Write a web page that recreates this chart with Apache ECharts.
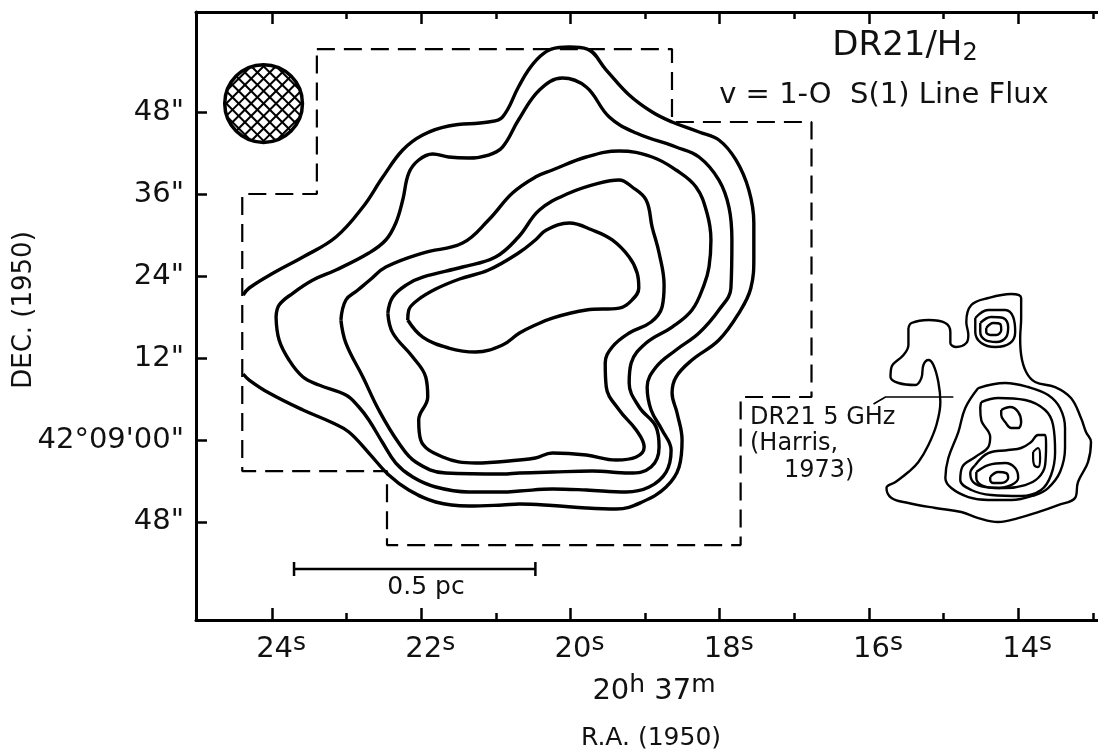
<!DOCTYPE html>
<html><head><meta charset="utf-8">
<script src="https://cdn.jsdelivr.net/npm/echarts@6/dist/echarts.min.js"></script>
<style>html,body{margin:0;padding:0;background:#fff}#c{width:1098px;height:751px}</style>
</head><body><div id="c"></div>
<script>
// ---- axis ticks / labels ----
const raMajorTicks = [14, 16, 18, 20, 22, 24];
const raMinorTicks = [13, 15, 17, 19, 21, 23];
const decTicks = [-12, 0, 12, 24, 36, 48];
const decTickLabels = ['48"', '42°09\'00"', '12"', '24"', '36"', '48"'];

// ---- H2 contours: [RA seconds (20h37m + s), Dec offset arcsec from 42°09'00"] ----
const h2Contour1 = [[24.388,21.26],[24.307,22.29],[23.960,24.63],[23.586,26.83],[23.144,29.77],[22.783,34.16],[22.516,38.56],[22.249,42.52],[21.981,44.72],[21.634,46.04],[21.099,46.63],[20.912,47.36],[20.698,51.76],[20.564,54.25],[20.417,56.16],[20.257,57.33],[20.016,57.62],[19.775,57.33],[19.521,54.25],[19.214,50.59],[18.906,48.09],[18.639,46.63],[18.278,45.16],[18.011,43.99],[17.783,41.06],[17.610,36.66],[17.543,31.82],[17.543,26.83],[17.583,22.29],[17.743,18.62],[18.011,14.66],[18.372,11.73],[18.586,9.24],[18.639,6.89],[18.572,3.96],[18.505,0],[18.545,-3.96],[18.719,-6.89],[19.040,-9.09],[19.388,-10.12],[19.789,-9.97],[20.243,-9.6],[20.684,-9.38],[20.912,-9.53],[21.366,-9.68],[21.807,-9.09],[22.168,-7.33],[22.436,-5.13],[22.703,-1.91],[22.971,1.17],[23.184,2.49],[23.586,4.40],[24.040,6.89],[24.307,8.80],[24.388,9.68]];
const h2Contour2 = [[23.947,18.04],[23.906,19.79],[23.719,21.55],[23.452,23.46],[23.144,24.93],[22.703,27.42],[22.476,29.33],[22.342,31.82],[22.249,35.19],[22.168,39.15],[22.035,41.06],[21.848,41.94],[21.634,41.50],[21.366,41.35],[21.099,41.79],[20.912,42.96],[20.698,46.92],[20.417,51.32],[20.110,53.08],[19.789,51.76],[19.481,47.36],[19.120,45.01],[18.586,42.96],[18.278,41.50],[18.011,38.12],[17.877,34.16],[17.837,29.33],[17.850,22.29],[18.011,19.06],[18.278,15.69],[18.586,13.20],[18.853,10.70],[18.973,7.77],[18.920,4.40],[18.773,1.47],[18.652,-1.47],[18.719,-4.69],[18.947,-6.89],[19.254,-7.62],[19.789,-7.33],[20.243,-7.18],[20.684,-7.48],[20.912,-7.62],[21.366,-7.62],[21.807,-6.89],[22.115,-5.43],[22.342,-3.37],[22.516,-0.44],[22.703,2.93],[22.837,4.84],[23.011,6.60],[23.372,8.06],[23.586,9.24],[23.773,11.73],[23.906,14.66]];
const h2Contour3 = [[23.078,17.60],[23.011,20.53],[22.850,21.99],[22.690,23.46],[22.476,25.37],[21.981,27.42],[21.447,28.89],[21.099,32.26],[20.778,36.22],[20.471,38.56],[20.243,39.59],[19.789,41.50],[19.348,42.38],[18.906,41.50],[18.586,39.59],[18.318,37.10],[18.171,33.28],[18.118,29.33],[18.144,25.37],[18.211,22.73],[18.372,19.06],[18.639,16.57],[18.987,14.22],[19.187,11.29],[19.214,8.36],[19.080,4.84],[18.853,1.91],[18.813,-1.03],[18.920,-3.96],[19.214,-4.84],[19.709,-4.55],[20.243,-4.69],[20.684,-4.84],[20.912,-4.99],[21.674,-4.84],[22.075,-3.23],[22.302,-0.44],[22.570,4.40],[22.783,9.24],[23.011,14.22]];
const h2Contour4 = [[22.449,18.62],[22.382,20.97],[22.182,22.87],[21.981,23.90],[21.447,25.37],[21.005,26.83],[20.698,29.77],[20.417,33.72],[20.016,36.22],[19.615,37.68],[19.348,38.12],[19.174,37.10],[18.987,35.19],[18.906,31.23],[18.813,27.42],[18.746,22.73],[18.773,19.50],[18.920,17.30],[19.214,15.69],[19.441,13.64],[19.535,11.29],[19.521,7.77],[19.348,4.40],[19.120,1.47],[19.013,-1.03],[19.120,-2.49],[19.388,-2.93],[19.789,-2.20],[20.243,-1.91],[20.471,-2.64],[20.684,-2.93],[21.273,-3.37],[21.714,-2.49],[22.008,0],[22.035,2.93],[21.914,6.30],[21.941,9.24],[22.115,12.17],[22.382,15.69]];
const h2Contour5 = [[22.182,17.60],[22.168,19.06],[22.048,20.53],[21.807,22.14],[21.487,23.61],[21.099,24.93],[20.698,27.42],[20.471,29.33],[20.324,30.79],[20.016,31.82],[19.709,30.79],[19.441,29.33],[19.214,26.83],[19.107,24.49],[19.085,22.29],[19.170,20.60],[19.348,19.35],[19.789,19.06],[20.243,17.89],[20.471,16.86],[20.684,15.69],[20.912,13.93],[21.273,12.90],[21.634,13.49],[21.981,15.10]];

// ---- observed area (dashed) ----
const obsBoundary = [[23.40,57.33],[18.64,57.33],[18.64,46.63],[16.77,46.63],[16.77,6.31],[17.72,6.31],[17.72,-15.40],[22.46,-15.40],[22.46,-4.55],[24.40,-4.55],[24.40,36.07],[23.40,36.07],[23.40,57.33]];

// ---- DR21 5 GHz inset (Harris 1973), drawn in the same frame ----
const radioOuter = [[15.471,16.42],[15.430,17.16],[15.203,17.60],[14.976,17.16],[14.909,15.84],[14.909,14.22],[14.829,13.64],[14.695,14.22],[14.668,15.40],[14.695,17.30],[14.628,19.79],[14.401,20.82],[14.094,21.41],[13.960,20.82],[13.960,17.89],[13.973,14.96],[13.960,12.46],[13.893,9.97],[13.773,8.50],[13.505,7.77],[13.292,6.16],[13.158,3.23],[13.091,1.17],[13.024,-0.29],[13.064,-3.23],[13.198,-6.16],[13.238,-8.50],[13.465,-9.53],[13.733,-10.56],[14.000,-11.44],[14.267,-12.02],[14.535,-11.44],[14.762,-10.56],[15.110,-9.97],[15.471,-9.24],[15.698,-8.50],[15.765,-7.04],[15.644,-6.16],[15.471,-4.69],[15.337,-3.23],[15.203,-0.73],[15.096,2.20],[15.043,5.57],[15.070,8.50],[15.136,11.00],[15.203,11.73],[15.270,11.00],[15.297,9.09],[15.377,8.06],[15.604,8.36],[15.711,9.24],[15.698,10.70],[15.537,12.46],[15.471,13.93]];
const radioNorth2 = [[14.575,17.89],[14.401,19.06],[14.174,19.06],[14.067,18.04],[14.040,15.84],[14.107,14.22],[14.308,13.64],[14.495,14.22],[14.575,15.84]];
const radioNorth3 = [[14.508,17.16],[14.361,18.04],[14.200,17.89],[14.134,16.57],[14.160,15.10],[14.294,14.37],[14.441,14.66],[14.508,15.84]];
const radioNorth4 = [[14.428,16.42],[14.334,17.16],[14.241,17.01],[14.227,16.13],[14.294,15.40],[14.375,15.40],[14.428,15.84]];
const radioSouth2 = [[14.535,7.62],[14.174,8.36],[13.866,7.77],[13.599,6.60],[13.439,4.69],[13.372,1.76],[13.372,-1.17],[13.439,-4.69],[13.599,-7.04],[13.773,-8.06],[14.094,-8.80],[14.401,-8.80],[14.668,-8.36],[14.896,-7.04],[14.976,-5.57],[14.936,-2.64],[14.802,1.17],[14.709,4.69]];
const radioSouth3 = [[14.495,5.57],[14.267,6.16],[13.906,5.87],[13.639,4.40],[13.532,2.20],[13.505,-1.76],[13.559,-5.13],[13.693,-7.33],[13.960,-8.21],[14.361,-8.06],[14.628,-7.33],[14.776,-5.87],[14.749,-3.96],[14.575,-2.49],[14.401,-1.03],[14.375,0.44],[14.495,2.93],[14.508,4.69]];
const radioSouth4 = [[14.575,-3.67],[14.401,-1.91],[14.134,-1.47],[13.960,-1.17],[13.826,-0.29],[13.733,0.73],[13.639,0.73],[13.626,-0.73],[13.639,-3.67],[13.733,-5.57],[13.906,-6.60],[14.174,-7.04],[14.441,-6.89],[14.602,-6.16],[14.642,-4.84]];
const radioSouth5 = [[14.561,-4.69],[14.401,-3.67],[14.174,-3.37],[14.040,-4.11],[14.000,-5.57],[14.094,-6.60],[14.308,-7.04],[14.495,-6.60],[14.561,-5.57]];
const radioSouth6 = [[14.375,-5.43],[14.267,-4.69],[14.160,-4.84],[14.134,-5.57],[14.227,-6.30],[14.334,-6.30],[14.375,-5.87]];
const radioKnotA = [[14.227,4.40],[14.107,4.84],[14.000,4.11],[13.960,2.64],[14.000,1.76],[14.094,1.76],[14.174,2.64],[14.227,3.67]];
const radioKnotB = [[13.800,-1.76],[13.733,-1.17],[13.706,-2.64],[13.733,-3.96],[13.786,-3.67],[13.800,-2.64]];
const radioPointer = [[15.939,5.28],[15.778,6.30],[14.869,6.30]];

// ---- beam and scale bar ----
const beamPos = [24.114, 49.34];
const beamDiameterArcsec = 11.4;
const scaleBar = [[23.706,-18.91],[20.471,-18.91]];

const FONT = "'DejaVu Sans', 'Liberation Sans', sans-serif";
const INK = '#111';

function contour(pts, closed, width) {
  return {
    type: 'line', data: closed ? pts.concat([pts[0]]) : pts, smooth: 0.4,
    symbol: 'none', silent: true, z: 3,
    lineStyle: { color: '#000', width: width }
  };
}

function renderBeam(params, api) {
  const c = api.coord([api.value(0), api.value(1)]);
  const r = api.size([0, api.value(2)])[1] / 2;
  const children = [{ type: 'circle', shape: { cx: c[0], cy: c[1], r: r }, style: { fill: '#fff', stroke: null } }];
  const spacing = 8.8;
  const n = Math.floor(r / spacing);
  [[1, 1], [1, -1]].forEach(function (d) {
    const ux = d[0] / Math.SQRT2, uy = d[1] / Math.SQRT2;
    const nx = -uy, ny = ux;
    for (let k = -n; k <= n; k++) {
      const off = k * spacing;
      const half = Math.sqrt(Math.max(0, r * r - off * off));
      const px = c[0] + nx * off, py = c[1] + ny * off;
      children.push({ type: 'line', shape: { x1: px - ux * half, y1: py - uy * half, x2: px + ux * half, y2: py + uy * half },
        style: { stroke: '#000', lineWidth: 2 } });
    }
  });
  children.push({ type: 'circle', shape: { cx: c[0], cy: c[1], r: r }, style: { fill: null, stroke: '#000', lineWidth: 3.5 } });
  return { type: 'group', children: children };
}

const xBase = { type: 'value', min: 12.93, max: 25.02, inverse: true, splitLine: { show: false } };
const tickStyle = { color: '#000', width: 2.5 };

const option = {
  animation: false,
  backgroundColor: '#fff',
  grid: { left: 196, top: 12, width: 904, height: 608 },
  xAxis: [
    Object.assign({}, xBase, {
      position: 'bottom',
      axisLine: { show: true, onZero: false, lineStyle: { color: '#000', width: 3 } },
      axisTick: { show: true, inside: true, length: 12, customValues: raMajorTicks, lineStyle: tickStyle },
      axisLabel: {
        customValues: raMajorTicks, margin: 11, color: INK,
        formatter: v => '{n|' + v + '}{s|s}',
        rich: {
          n: { fontFamily: FONT, fontSize: 29, lineHeight: 36, color: INK, padding: [0, 0, 0, 18] },
          s: { fontFamily: FONT, fontSize: 25, lineHeight: 18, verticalAlign: 'top', color: INK }
        }
      }
    }),
    Object.assign({}, xBase, {
      position: 'bottom',
      axisLine: { show: false, onZero: false },
      axisTick: { show: true, inside: true, length: 7, customValues: raMinorTicks, lineStyle: tickStyle },
      axisLabel: { show: false }
    }),
    Object.assign({}, xBase, {
      position: 'top',
      axisLine: { show: true, onZero: false, lineStyle: { color: '#000', width: 3 } },
      axisTick: { show: true, inside: true, length: 12, customValues: raMajorTicks, lineStyle: tickStyle },
      axisLabel: { show: false }
    }),
    Object.assign({}, xBase, {
      position: 'top',
      axisLine: { show: false, onZero: false },
      axisTick: { show: true, inside: true, length: 7, customValues: raMinorTicks, lineStyle: tickStyle },
      axisLabel: { show: false }
    })
  ],
  yAxis: [{
    type: 'value', min: -26.39, max: 62.76, position: 'left',
    splitLine: { show: false },
    axisLine: { show: true, onZero: false, lineStyle: { color: '#000', width: 3 } },
    axisTick: { show: true, inside: true, length: 11, customValues: decTicks, lineStyle: tickStyle },
    axisLabel: {
      customValues: decTicks, margin: 12, color: INK, fontFamily: FONT, fontSize: 29,
      formatter: v => decTickLabels[decTicks.indexOf(v)]
    }
  }],
  series: [
    contour(h2Contour1, false, 3.4),
    contour(h2Contour2, true, 3.4),
    contour(h2Contour3, true, 3.4),
    contour(h2Contour4, true, 3.4),
    contour(h2Contour5, true, 3.4),
    {
      type: 'line', data: obsBoundary, symbol: 'none', silent: true, z: 2,
      lineStyle: { color: '#000', width: 2.2, type: [18, 9] }
    },
    contour(radioOuter, true, 2.4),
    contour(radioNorth2, true, 2.4),
    contour(radioNorth3, true, 2.4),
    contour(radioNorth4, true, 2.4),
    contour(radioSouth2, true, 2.4),
    contour(radioSouth3, true, 2.4),
    contour(radioSouth4, true, 2.4),
    contour(radioSouth5, true, 2.4),
    contour(radioSouth6, true, 2.4),
    contour(radioKnotA, true, 2.4),
    contour(radioKnotB, true, 2.2),
    {
      type: 'line', data: radioPointer, symbol: 'none', silent: true,
      lineStyle: { color: '#000', width: 1.6 }
    },
    {
      type: 'line', data: scaleBar, symbol: 'rect', symbolSize: [2.5, 14], showSymbol: true,
      silent: true, itemStyle: { color: '#000' }, lineStyle: { color: '#000', width: 2.5 }
    },
    {
      type: 'custom', data: [[beamPos[0], beamPos[1], beamDiameterArcsec]], silent: true, z: 4,
      renderItem: renderBeam
    }
  ],
  graphic: [
    { type: 'text', x: 905, y: 46, style: { text: '{a|DR21/H}{b|2}', align: 'center', verticalAlign: 'middle',
      rich: { a: { fontFamily: FONT, fontSize: 34, lineHeight: 40, fill: INK },
              b: { fontFamily: FONT, fontSize: 24, lineHeight: 14, verticalAlign: 'bottom', fill: INK } } } },
    { type: 'text', x: 884, y: 95, style: { text: 'v = 1-O  S(1) Line Flux', align: 'center', verticalAlign: 'middle',
      font: '29px ' + FONT, fill: INK } },
    { type: 'text', x: 750, y: 418, style: { text: 'DR21 5 GHz', align: 'left', verticalAlign: 'middle', font: '24px ' + FONT, fill: INK } },
    { type: 'text', x: 750, y: 444, style: { text: '(Harris,', align: 'left', verticalAlign: 'middle', font: '24px ' + FONT, fill: INK } },
    { type: 'text', x: 784, y: 471, style: { text: '1973)', align: 'left', verticalAlign: 'middle', font: '24px ' + FONT, fill: INK } },
    { type: 'text', x: 426, y: 587, style: { text: '0.5 pc', align: 'center', verticalAlign: 'middle', font: '25px ' + FONT, fill: INK } },
    { type: 'text', x: 654, y: 691, style: { text: '{n|20}{s|h}{n| 37}{s|m}', align: 'center', verticalAlign: 'middle',
      rich: { n: { fontFamily: FONT, fontSize: 29, lineHeight: 36, fill: INK },
              s: { fontFamily: FONT, fontSize: 25, lineHeight: 18, verticalAlign: 'top', fill: INK } } } },
    { type: 'text', x: 651, y: 738, style: { text: 'R.A. (1950)', align: 'center', verticalAlign: 'middle', font: '25px ' + FONT, fill: INK } },
    { type: 'text', x: 24, y: 310, rotation: Math.PI / 2, style: { text: 'DEC. (1950)', align: 'center', verticalAlign: 'middle', font: '26px ' + FONT, fill: INK } }
  ]
};

const chart = echarts.init(document.getElementById('c'), null, { renderer: 'canvas' });
chart.setOption(option);
</script>
</body></html>
